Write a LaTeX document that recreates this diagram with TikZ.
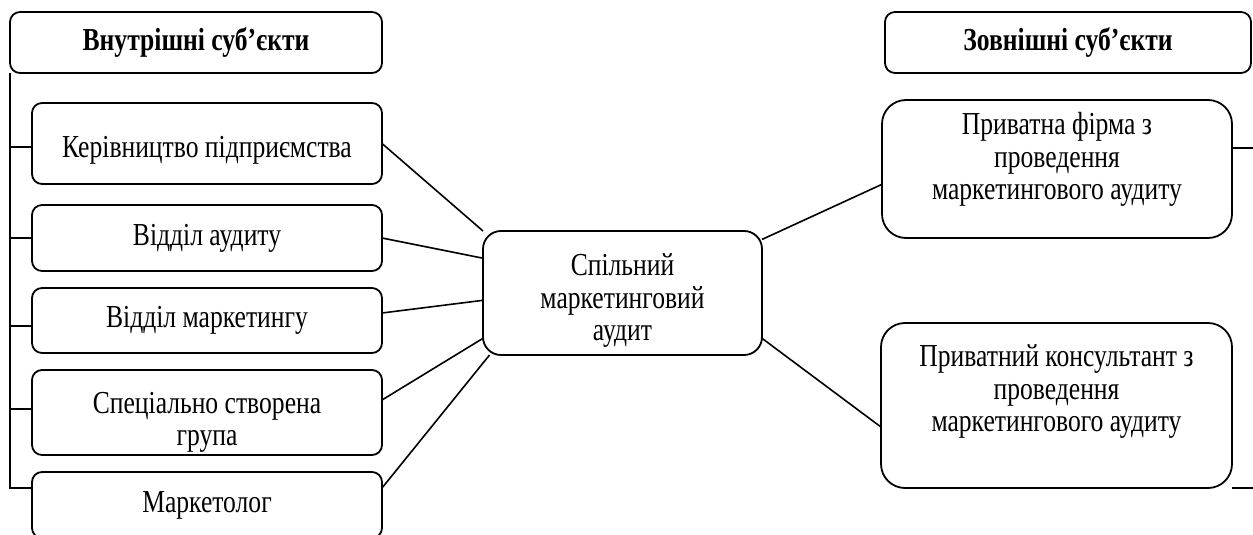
\documentclass[tikz,border=0pt]{standalone}
\usepackage{fontspec}
\setmainfont{Liberation Serif}[FakeStretch=0.8]
\usetikzlibrary{positioning}

\begin{document}
\begin{tikzpicture}[
        x=0.5pt, y=-0.5pt,
        node distance=8.5pt,
        every node/.style={font=\fontsize{16pt}{16.25pt}\selectfont, align=center, inner sep=2pt, outer sep=0pt},
        header/.style={rectangle, draw, line width=0.9pt, rounded corners=5pt, minimum width=186pt, minimum height=30.5pt, font=\fontsize{16pt}{16.25pt}\selectfont\bfseries},
        subject/.style={rectangle, draw, line width=0.9pt, rounded corners=5pt, minimum width=175pt},
        audit/.style={rectangle, draw, line width=0.9pt, rounded corners=9pt, minimum width=139.5pt, minimum height=62pt},
        outer/.style={rectangle, draw, line width=0.9pt, rounded corners=12pt, minimum width=175pt},
        link/.style={line width=0.8pt}
    ]
    \useasboundingbox (0,0) rectangle (1253,535);

    % internal subjects
    \node[header] (hdrin) at (196,42.5) {Внутрішні суб’єкти};
    \node[subject, minimum height=40.5pt, text height=14pt, text depth=0pt, anchor=north west] (kerivn) at (32,103) {Керівництво підприємства};
    \node[subject, minimum height=33pt, below=10.5pt of kerivn] (viddila) {Відділ аудиту};
    \node[subject, minimum height=32.5pt, below=of viddila] (viddilm) {Відділ маркетингу};
    \node[subject, minimum height=42.5pt, text height=33pt, text depth=0pt, below=of viddilm] (grupa) {Спеціально створена\\ група};
    \node[subject, minimum height=33pt, below=of grupa] (marketolog) {Маркетолог};

    % joint audit
    \node[audit, text height=47.5pt, text depth=0pt] (spilnyi) at (622.5,293) {Спільний\\ маркетинговий\\ аудит};

    % external subjects
    \node[header, minimum width=183pt] (hdrout) at (1068,42.5) {Зовнішні суб’єкти};
    \node[outer, minimum height=69pt, text depth=13pt] (firma) at (1057,169) {Приватна фірма з\\ проведення\\ маркетингового аудиту};
    \node[outer, minimum width=175.5pt, minimum height=82.5pt, text depth=17pt] (konsult) at (1056.5,405.5) {Приватний консультант з\\ проведення\\ маркетингового аудиту};

    % left bracket
    \draw[link] (hdrin.south west) |- ([yshift=-8pt]marketolog.north west);
    \draw[link] (hdrin.south west |- kerivn.west) ++(0,3.5) -- ([yshift=-1.75pt]kerivn.west);
    \draw[link] (hdrin.south west |- viddila.west) -- (viddila.west);
    \draw[link] (hdrin.south west |- viddilm.west) ++(0,5.5) -- ([yshift=-2.75pt]viddilm.west);
    \draw[link] (hdrin.south west |- grupa.west) ++(0,-3.5) -- ([yshift=1.75pt]grupa.west);

    % right bracket (off the page)
    \coordinate (rtop) at (1262,148);
    \coordinate (rbot) at (1262,488);
    \draw[link] (rtop -| firma.east) -- (rtop);
    \draw[link] (konsult.south east) -- (rbot);

    % links to the joint audit
    \draw[link] (kerivn.east) -- (spilnyi.north west);
    \draw[link] (viddila.east) -- (spilnyi.166);
    \draw[link] ([yshift=3.75pt]viddilm.east) -- (spilnyi.183);
    \draw[link] ([yshift=6.25pt]grupa.east) -- (spilnyi.198);
    \draw[link] ([yshift=-8pt]marketolog.north east) -- (spilnyi.205);
    \draw[link] (spilnyi.21.5) -- (firma.185);
    \draw[link] (spilnyi.-18) -- (konsult.187);
\end{tikzpicture}
\end{document}
